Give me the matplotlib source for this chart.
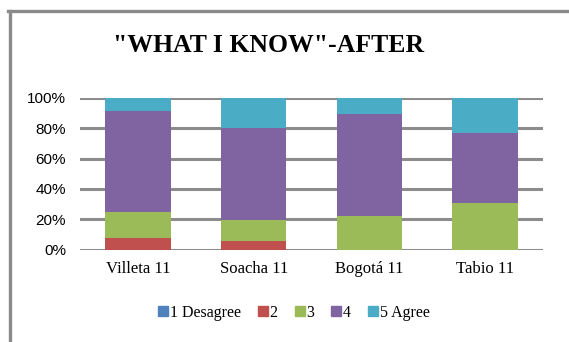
import matplotlib
matplotlib.use("Agg")
import matplotlib.pyplot as plt
from matplotlib.lines import Line2D
import numpy as np

categories = ["Villeta 11", "Soacha 11", "Bogotá 11", "Tabio 11"]
series_names = ["1 Desagree", "2", "3", "4", "5 Agree"]
s1 = [0.0, 0.0, 0.0, 0.0]
s2 = [7.5, 6.0, 0.0, 0.0]
s3 = [17.0, 13.5, 22.0, 30.5]
s4 = [67.0, 60.5, 67.0, 46.0]
s5 = [8.5, 20.0, 11.0, 23.5]
colors = ["#4F81BD", "#C0504D", "#9BBB59", "#8064A2", "#4BACC6"]
yticks = [0, 20, 40, 60, 80, 100]
yticklabels = ["0%", "20%", "40%", "60%", "80%", "100%"]

plt.rcParams['font.family'] = ['Liberation Serif', 'DejaVu Serif']

fig = plt.figure(figsize=(5.69, 3.42), dpi=100)
ax = fig.add_axes([80/569, 1-249.7/342, 463/569, (249.7-97.7)/342])

x = np.arange(len(categories))
bottom = np.zeros(len(categories))
for name, vals, c in zip(series_names, [s1, s2, s3, s4, s5], colors):
    vals = np.array(vals)
    ax.bar(x, vals, bottom=bottom, width=0.567, color=c, label=name, zorder=3)
    bottom += vals

ax.set_xlim(-0.5, len(categories) - 0.5)
ax.set_ylim(0, 100)
ax.set_yticks(yticks)
ax.set_yticklabels(yticklabels, fontsize=11, family=['Liberation Sans', 'DejaVu Sans'])
ax.set_xticks(x)
ax.set_xticklabels(categories, fontsize=12)
ax.tick_params(axis='both', length=0)
ax.tick_params(axis='x', pad=8)
ax.tick_params(axis='y', pad=10)
for sp in ax.spines.values():
    sp.set_visible(False)
for yv in yticks:
    ax.axhline(yv, color="#8C8C8C", linewidth=2.2, zorder=1)

fig.text(269/569, 1-46/342, '"WHAT I KNOW"-AFTER', ha='center', va='center',
         fontsize=18.5, fontweight='bold')

handles = [Line2D([], [], marker='s', linestyle='none', markersize=6.5,
                  markerfacecolor=c, markeredgecolor=c) for c in colors]
fig.legend(handles, series_names, loc='center', bbox_to_anchor=(294/569, 1-313/342),
           ncol=5, frameon=False, fontsize=11.5, handlelength=0.6, handletextpad=0.1,
           columnspacing=1.1)

# outer border
fig.add_artist(Line2D([9.5/569, 9.5/569], [0, 1-11/342], transform=fig.transFigure,
                      color="#8A8A8A", linewidth=2.4))
fig.add_artist(Line2D([8.3/569, 1], [1-11/342, 1-11/342], transform=fig.transFigure,
                      color="#8A8A8A", linewidth=2.4))

fig.savefig("out.png", dpi=100)
